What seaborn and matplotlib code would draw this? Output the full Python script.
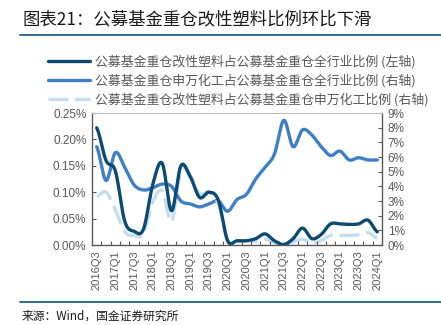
import numpy as np
import pandas as pd
import matplotlib
matplotlib.use("Agg")
import matplotlib.pyplot as plt
import seaborn as sns
from matplotlib.lines import Line2D
from matplotlib.ticker import FuncFormatter, FixedLocator

# ---- data -------------------------------------------------------------
quarters = [
    "2016Q3", "2016Q4", "2017Q1", "2017Q2", "2017Q3", "2017Q4", "2018Q1", "2018Q2",
    "2018Q3", "2018Q4", "2019Q1", "2019Q2", "2019Q3", "2019Q4", "2020Q1", "2020Q2",
    "2020Q3", "2020Q4", "2021Q1", "2021Q2", "2021Q3", "2021Q4", "2022Q1", "2022Q2",
    "2022Q3", "2022Q4", "2023Q1", "2023Q2", "2023Q3", "2023Q4", "2024Q1",
]
# 改性塑料占全行业比例 (%), left axis
plastics_share = [
    0.222, 0.160, 0.140, 0.045, 0.026, 0.030, 0.115, 0.155, 0.065, 0.150, 0.130,
    0.090, 0.100, 0.085, 0.008, 0.008, 0.008, 0.012, 0.021, 0.008, 0.001, 0.012,
    0.032, 0.012, 0.020, 0.040, 0.040, 0.039, 0.040, 0.047, 0.025,
]
# 申万化工占全行业比例 (%), right axis
chemical_share = [
    6.7, 4.4, 6.3, 5.3, 4.1, 3.75, 3.9, 4.15, 4.0, 3.0, 2.8,
    2.6, 2.8, 3.0, 2.3, 3.1, 3.45, 4.5, 5.3, 6.2, 8.5, 6.7,
    7.85, 7.5, 6.7, 6.1, 6.4, 5.8, 5.95, 5.8, 5.8,
]
# 改性塑料占申万化工比例 (%), right axis
plastics_in_chemical = [
    3.3, 3.6, 2.4, 0.9, 0.65, 0.8, 2.9, 3.7, 1.6, 5.1, 4.6,
    3.5, 3.6, 2.8, 0.35, 0.25, 0.3, 0.25, 0.4, 0.15, 0.0, 0.2,
    0.4, 0.15, 0.3, 0.65, 0.65, 0.65, 0.7, 0.85, 0.45,
]

labels = [
    "公募基金重仓改性塑料占公募基金重仓全行业比例 (左轴)",
    "公募基金重仓申万化工占公募基金重仓全行业比例 (右轴)",
    "公募基金重仓改性塑料占公募基金重仓申万化工比例 (右轴)",
]
title = "图表21：公募基金重仓改性塑料比例环比下滑"
source = "来源：Wind，国金证券研究所"

c_dark = "#0c4a72"
c_mid = "#3f7fc6"
c_light = "#c6ddf1"
c_axis = "#595959"


def smooth(values, n=24):
    """Catmull-Rom style smoothed curve through the category points."""
    y = np.asarray(values, dtype=float)
    k = len(y)
    xs, ys = [], []
    for i in range(k - 1):
        p0 = y[i - 1] if i > 0 else y[i]
        p1, p2 = y[i], y[i + 1]
        p3 = y[i + 2] if i + 2 < k else y[i + 1]
        m1 = (p2 - p0) / 2.0
        m2 = (p3 - p1) / 2.0
        t = np.linspace(0, 1, n, endpoint=False)
        h00 = 2 * t**3 - 3 * t**2 + 1
        h10 = t**3 - 2 * t**2 + t
        h01 = -2 * t**3 + 3 * t**2
        h11 = t**3 - t**2
        xs.append(i + t)
        ys.append(h00 * p1 + h10 * m1 + h01 * p2 + h11 * m2)
    xs.append([k - 1])
    ys.append([y[-1]])
    return pd.DataFrame({"x": np.concatenate(xs), "y": np.concatenate(ys)})


sns.set_theme(style="white")
plt.rcParams["font.family"] = ["Liberation Sans", "Noto Sans CJK SC"]

fig = plt.figure(figsize=(4.41, 3.25), dpi=100)
ax = fig.add_axes([92 / 441, 1 - 245 / 325, 290 / 441, 132 / 325])
ax2 = ax.twinx()

lw = 2.4
sns.lineplot(data=smooth(chemical_share), x="x", y="y", ax=ax2, color=c_mid,
             lw=lw, estimator=None, legend=False)
light = sns.lineplot(data=smooth(plastics_in_chemical), x="x", y="y", ax=ax2,
                     color=c_light, lw=lw, estimator=None, legend=False)
light.lines[-1].set_dashes((6, 2))
sns.lineplot(data=smooth(plastics_share), x="x", y="y", ax=ax, color=c_dark,
             lw=lw, estimator=None, legend=False)

# primary axis on top so the dark series sits above the others
ax.set_zorder(ax2.get_zorder() + 1)
ax.patch.set_visible(False)

ax.set_xlim(-0.5, len(quarters) - 0.5)
ax.set_ylim(0, 0.25)
ax2.set_ylim(0, 9)
ax.set_xlabel("")
ax.set_ylabel("")
ax2.set_ylabel("")

ax.xaxis.set_major_locator(FixedLocator(range(0, len(quarters), 2)))
ax.set_xticklabels(quarters[::2], rotation=90, fontsize=8, color=c_axis)
ax.xaxis.set_minor_locator(FixedLocator(np.arange(-0.5, len(quarters), 1)))
ax.tick_params(axis="x", which="major", length=0, pad=4)
ax.tick_params(axis="x", which="minor", length=3, direction="in",
               color=c_axis, width=0.8, bottom=True)

ax.set_yticks(np.arange(0, 0.2501, 0.05))
ax.yaxis.set_major_formatter(FuncFormatter(lambda v, p: f"{v:.2f}%"))
ax.tick_params(axis="y", length=3, direction="in", color=c_axis, width=0.8,
               labelsize=8.5, labelcolor=c_axis, pad=4, left=True)

ax2.set_yticks(range(0, 10))
ax2.yaxis.set_major_formatter(FuncFormatter(lambda v, p: f"{v:.0f}%"))
ax2.tick_params(axis="y", length=3, direction="in", color=c_axis, width=0.8,
                labelsize=8.5, labelcolor=c_axis, pad=4, right=True)

for name, sp in ax.spines.items():
    sp.set_visible(True)
    sp.set_color(c_axis)
    sp.set_linewidth(1.0)
ax.spines["top"].set_color("#bfbfbf")
ax.spines["top"].set_linewidth(0.8)
ax.spines["right"].set_visible(False)
for name in ["top", "left", "bottom"]:
    ax2.spines[name].set_visible(False)
ax2.spines["right"].set_color(c_axis)
ax2.spines["right"].set_linewidth(1.0)
ax.grid(False)
ax2.grid(False)

handles = [
    Line2D([], [], color=c_dark, lw=lw),
    Line2D([], [], color=c_mid, lw=lw),
    Line2D([], [], color=c_light, lw=lw, dashes=(6, 2)),
]
fig.legend(handles, labels, loc="upper left", bbox_to_anchor=(36 / 441, 1 - 43 / 325),
           frameon=False, handlelength=3.3, handletextpad=0.4,
           labelspacing=0.42, labelcolor="#595959",
           prop={"family": ["Noto Sans CJK SC"], "size": 9.3})

fig.text(22 / 441, 1 - 19 / 325, title, fontsize=12.5, color="#1a1a1a",
         va="center", ha="left", family=["Noto Sans CJK SC"])
fig.add_artist(Line2D([20 / 441, 1], [1 - 34.5 / 325] * 2,
                      transform=fig.transFigure, color="#2f6a97", lw=1.4))
fig.add_artist(Line2D([20 / 441, 1], [1 - 302 / 325] * 2,
                      transform=fig.transFigure, color="#2f6a97", lw=1.4))
fig.text(22 / 441, 1 - 310 / 325, source, fontsize=8.5, color="#1a1a1a",
         va="top", ha="left", family=["Noto Sans CJK SC"])

fig.savefig("out.png", dpi=100)
